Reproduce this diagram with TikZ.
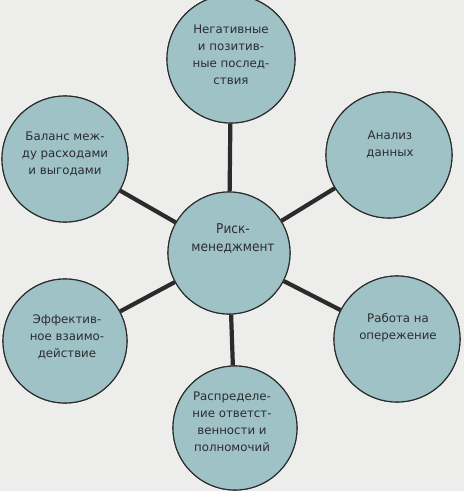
\documentclass[tikz,border=0pt]{standalone}
\usepackage{fontspec}
\setmainfont{DejaVu Sans}
\newfontfamily\condfont{DejaVu Sans Condensed}
\definecolor{bgc}{HTML}{EDEDEC}
\definecolor{circfill}{HTML}{9EC2C5}
\definecolor{edgec}{HTML}{2B2B2B}
\definecolor{txtc}{HTML}{2C2C33}
\begin{document}
\begin{tikzpicture}[x=1pt,y=-1pt,
  bubble/.style={circle,draw=edgec,line width=1.1pt,fill=circfill,minimum size=126pt,inner sep=0pt},
  lbl/.style={align=center,text=txtc,font=\fontsize{11.8}{17}\selectfont,inner sep=0pt},
  clbl/.style={align=center,text=txtc,font=\condfont\fontsize{13.5}{18}\selectfont,inner sep=0pt},
  spoke/.style={draw=edgec,line width=4.2pt}]
\fill[bgc] (0,0) rectangle (464,491);
\useasboundingbox (0,0) rectangle (464,491);
\node[bubble,minimum size=122pt] (c) at (229,253) {};
\node[bubble,minimum size=128pt] (n1) at (231,59) {};
\node[bubble] (n2) at (389,155) {};
\node[bubble] (n3) at (397,339) {};
\node[bubble,minimum size=124pt] (n4) at (235,428) {};
\node[bubble,minimum size=124pt] (n5) at (65,341) {};
\node[bubble] (n6) at (65,159) {};
\foreach \n in {n1,n2,n3,n4,n5,n6}{\path[spoke] (c) -- (\n);}
% redraw circles over the spokes
\node[bubble,minimum size=122pt] (c') at (c) {};
\node[bubble,minimum size=128pt] (n1') at (n1) {};
\node[bubble] (n2') at (n2) {};
\node[bubble] (n3') at (n3) {};
\node[bubble,minimum size=124pt] (n4') at (n4) {};
\node[bubble,minimum size=124pt] (n5') at (n5) {};
\node[bubble] (n6') at (n6) {};
\node[clbl] (tc) at (233,239) {Риск-\\менеджмент};
\node[lbl] (t1) at (231,55) {Негативные\\и позитив-\\ные послед-\\ствия};
\node[lbl] (t2) at (390,145) {Анализ\\данных};
\node[lbl] (t3) at (398,328) {Работа на\\опережение};
\node[lbl] (t4) at (232,422) {Распределе-\\ние ответст-\\венности и\\полномочий};
\node[lbl] (t5) at (67,337) {Эффектив-\\ное взаимо-\\действие};
\node[lbl] (t6) at (65,154) {Баланс меж-\\ду расходами\\и выгодами};
\end{tikzpicture}
\end{document}
